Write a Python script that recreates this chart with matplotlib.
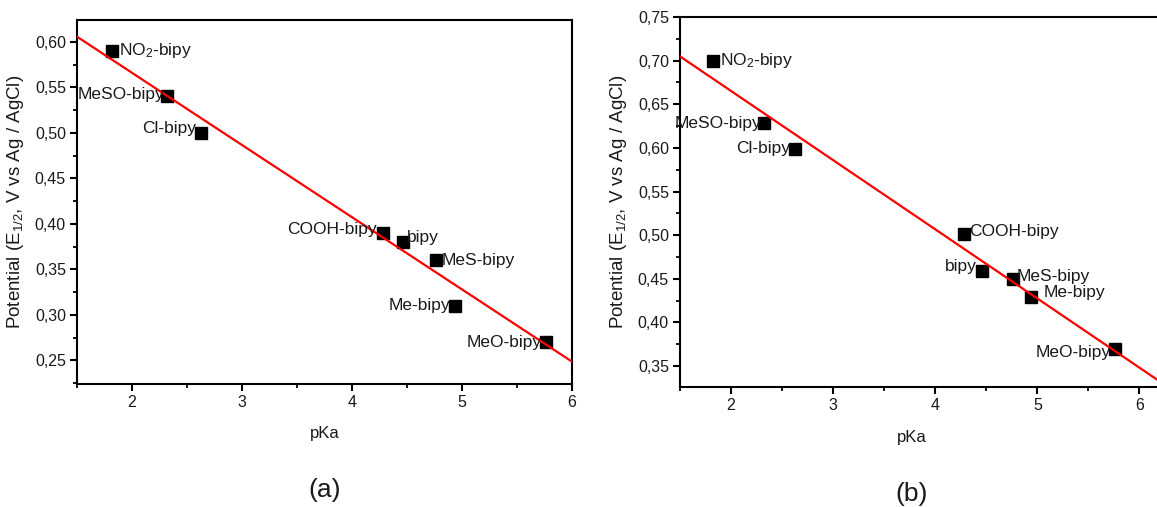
import numpy as np
from matplotlib import pyplot as plt
from matplotlib.ticker import FuncFormatter, MultipleLocator

plt.rcParams['font.family'] = 'Liberation Sans'
plt.rcParams['mathtext.fontset'] = 'custom'
plt.rcParams['mathtext.rm'] = 'Liberation Sans'
plt.rcParams['mathtext.it'] = 'Liberation Sans:italic'

#substituted bipyridine ligands
ligands = ["NO$_2$-bipy", "MeSO-bipy", "Cl-bipy", "COOH-bipy",
           "bipy", "MeS-bipy", "Me-bipy", "MeO-bipy"]

#pKa of each ligand
pka_a = [1.82, 2.32, 2.63, 4.28, 4.46, 4.76, 4.94, 5.76]
pka_b = [1.82, 2.32, 2.63, 4.28, 4.46, 4.76, 4.94, 5.76]

#half-wave potentials (V vs Ag/AgCl)
e_half_a = [0.59, 0.54, 0.50, 0.39, 0.38, 0.36, 0.31, 0.27]
e_half_b = [0.70, 0.628, 0.599, 0.501, 0.459, 0.450, 0.429, 0.369]

#where each label sits next to its square (points, alignment)
offsets_a = [(5, 0, 'left'), (-2, 1.5, 'right'), (-4, 3, 'right'), (-4, 2.5, 'right'),
             (3, 3, 'left'), (4, 0, 'left'), (-4, 0, 'right'), (-3, 0, 'right')]
offsets_b = [(5, 0, 'left'), (-2, 0, 'right'), (-4, 0, 'right'), (4, 2, 'left'),
             (-4, 3, 'right'), (3, 2, 'left'), (9, 3, 'left'), (-3, -2, 'right')]

comma = FuncFormatter(lambda v, p: ("%.2f" % v).replace('.', ','))
txt = '#1a1a1a'


def panel(ax, pka, e_half, offsets, xlim, ylim, letter, xlab_pos):
    x = np.array(pka)
    y = np.array(e_half)

    #linear fit through the points
    k, b = np.polyfit(x, y, 1)
    xf = np.linspace(xlim[0], xlim[1], 50)
    ax.plot(xf, k * xf + b, color='#ff0000', lw=1.6, zorder=3, clip_on=True)

    ax.plot(x, y, 's', color='black', ms=8, zorder=2)
    for xi, yi, name, (dx, dy, ha) in zip(x, y, ligands, offsets):
        ax.annotate(name, (xi, yi), xytext=(dx, dy), textcoords='offset points',
                    ha=ha, va='center', fontsize=12.5, color=txt, zorder=4)

    ax.set_xlim(xlim)
    ax.set_ylim(ylim)
    ax.xaxis.set_major_locator(MultipleLocator(1))
    ax.xaxis.set_minor_locator(MultipleLocator(0.5))
    ax.yaxis.set_major_locator(MultipleLocator(0.05))
    ax.yaxis.set_minor_locator(MultipleLocator(0.025))
    ax.yaxis.set_major_formatter(comma)

    for s in ax.spines.values():
        s.set_linewidth(1.5)
    ax.tick_params(which='major', direction='out', length=5, width=1.5,
                   labelsize=11.5, labelcolor=txt, pad=3)
    ax.tick_params(which='minor', direction='out', length=3, width=1.3)

    ax.set_xlabel("pKa", fontsize=12, color=txt)
    ax.xaxis.set_label_coords(xlab_pos, -0.115)
    ax.set_ylabel("Potential (E$_{\\mathregular{1/2}}$, V vs Ag / AgCl)",
                  fontsize=13.5, color=txt, labelpad=6)
    ax.text(xlab_pos, -0.29, letter, transform=ax.transAxes, ha='center',
            va='center', fontsize=19, color=txt)


W, H = 1157, 507
fig = plt.figure(figsize=(W / 100, H / 100), dpi=100)

ax1 = fig.add_axes([77 / W, (H - 384) / H, (572 - 77) / W, (384 - 20) / H])
ax2 = fig.add_axes([680 / W, (H - 387) / H, (1165 - 680) / W, (387 - 17) / H])

panel(ax1, pka_a, e_half_a, offsets_a, (1.5, 6.0), (0.224, 0.624), "(a)", 0.5)
panel(ax2, pka_b, e_half_b, offsets_b, (1.5, 6.25), (0.326, 0.75), "(b)", 0.478)

plt.savefig("out.png", dpi=100)
